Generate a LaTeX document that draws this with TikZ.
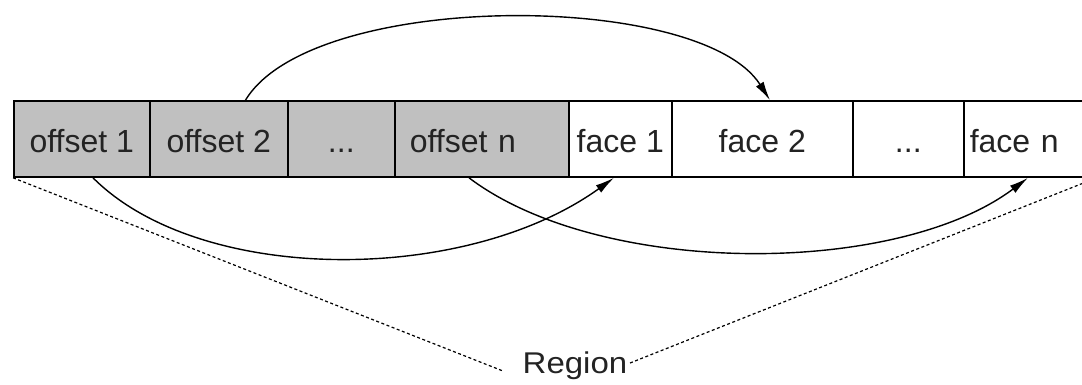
\documentclass[tikz,border=0pt]{standalone}
\usepackage{fontspec}
\setmainfont{Liberation Sans}
\usetikzlibrary{arrows.meta}
\definecolor{offsetgray}{RGB}{192,192,192}
\definecolor{inkgray}{RGB}{35,35,35}
\begin{document}
\begin{tikzpicture}[x=1pt,y=-1pt,
  cell/.style={draw=black, line width=1.6pt, minimum height=76pt, inner sep=0pt,
    text height=27pt, text depth=0pt,
    anchor=west, font=\fontsize{32}{38}\selectfont, text=inkgray},
  offs/.style={cell, fill=offsetgray},
  face/.style={cell, fill=white},
  jump/.style={line width=1.4pt, -{Latex[length=19pt,width=9pt]}},
  span/.style={line width=1.2pt, dash pattern=on 3pt off 2.5pt}]
\useasboundingbox (0,0) rectangle (1082,385);
\clip (0,0) rectangle (1082,385);

% record layout: offset table followed by the faces
\node[offs, minimum width=136pt] (o1) at (13,139) {offset 1};
\node[offs, minimum width=138pt] (o2) at (149,139) {offset 2};
\node[offs, minimum width=107pt] (o3) at (287,139) {...};
\node[offs, minimum width=174pt, inner xsep=15pt, text width=144pt, align=left] (on) at (394,139) {offset n};
\node[face, minimum width=103pt] (f1) at (568,139) {face 1};
\node[face, minimum width=181pt] (f2) at (671,139) {face 2};
\node[face, minimum width=111pt] (f3) at (852,139) {...};
\node[face, minimum width=132pt, inner xsep=6pt, text width=120pt, align=left] (fn) at (963,139) {face n};

% offsets pointing to their faces
\draw[jump] (245,101) .. controls (310,-10) and (700,-10) .. (f2.north -| 770,0);
\draw[jump] (o1.south -| 93,0) .. controls (200,285) and (465,285) .. (f1.south -| 614,0);
\draw[jump] (on.south -| 469,0) .. controls (600,277) and (896,277) .. (fn.south -| 1028,0);

% the whole record forms a region
\node[font=\fontsize{30}{36}\selectfont, text=inkgray, inner sep=0pt, anchor=base,
  xscale=1.1, transform shape] (reg) at (575,373) {Region};
\coordinate (rl) at (503,371);
\coordinate (rr) at (630,363);
\draw[span] (o1.south west) -- (rl);
\draw[span] (rr) -- (fn.south east);
\end{tikzpicture}
\end{document}
